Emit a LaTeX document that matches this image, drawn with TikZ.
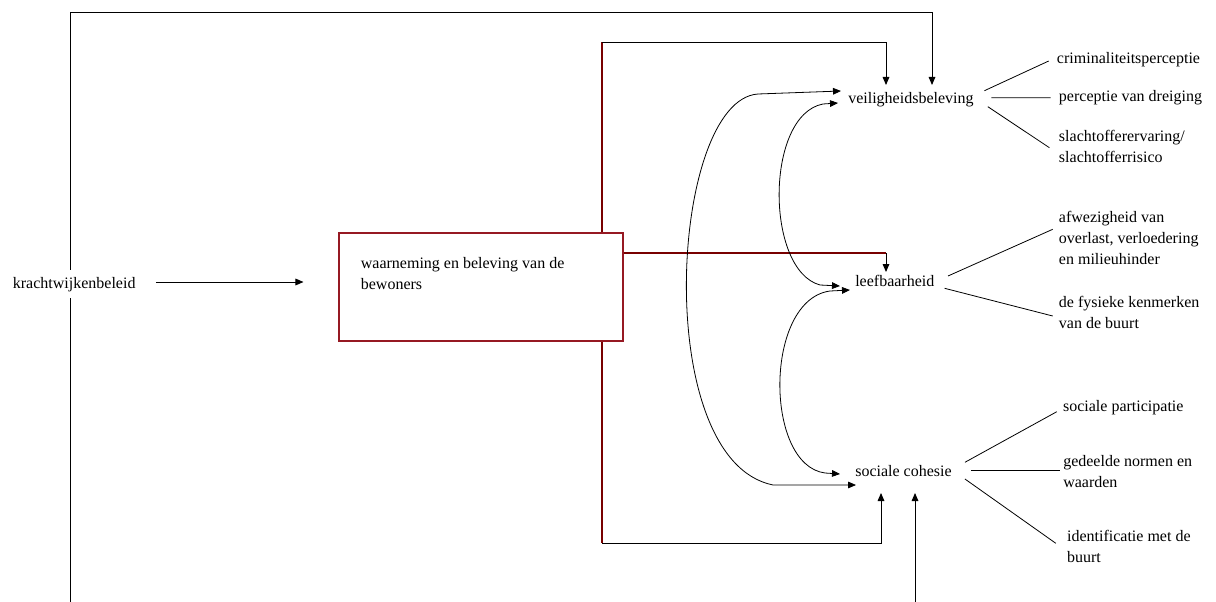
\documentclass[tikz,border=0pt]{standalone}
\usepackage{fontspec}
\setmainfont{Liberation Serif}
\usetikzlibrary{arrows.meta,calc}
\definecolor{boxred}{RGB}{150,25,35}
\definecolor{linered}{RGB}{120,0,0}
\newcommand{\mlines}[1]{\vtop{\halign{##\hfil\cr#1\crcr}}}
\tikzset{
  lbl/.style={font=\fontsize{12pt}{15.75pt}\selectfont, inner sep=0pt, anchor=base west},
  arr/.style={-{Triangle[length=6pt,width=5pt]}, line width=0.7pt},
  dbl/.style={{Triangle[length=6pt,width=5pt]}-{Triangle[length=6pt,width=5pt]}, line width=0.6pt},
  redln/.style={draw=linered, line width=1pt},
  link/.style={line width=0.6pt},
  boxstyle/.style={draw=boxred, line width=0.8pt, minimum width=213pt, minimum height=81pt, inner sep=0pt}
}
\begin{document}
\begin{tikzpicture}[x=0.75pt,y=-0.75pt]
\useasboundingbox (0,0) rectangle (1216,602);
% main nodes
\node[boxstyle] (box) at (481,287) {};
\node[lbl] (boxtxt) at (360.6,268) {\mlines{waarneming en beleving van de\cr bewoners}};
\node[lbl] (veil) at (848,104) {veiligheidsbeleving};
\node[lbl] (leef) at (855,286) {leefbaarheid};
\node[lbl] (soc) at (855,476.7) {sociale cohesie};
% right-hand labels
\node[lbl] (crim) at (1056.7,63.3) {criminaliteitsperceptie};
\node[lbl] (perc) at (1058.7,101.7) {perceptie van dreiging};
\node[lbl] (slach) at (1058.7,141.7) {\mlines{slachtofferervaring/\cr slachtofferrisico}};
\node[lbl] (afw) at (1058.7,222.7) {\mlines{afwezigheid van\cr overlast, verloedering\cr en milieuhinder}};
\node[lbl] (fys) at (1058.7,307.3) {\mlines{de fysieke kenmerken\cr van de buurt}};
\node[lbl] (part) at (1062.8,411) {sociale participatie};
\node[lbl] (ged) at (1063,466.7) {\mlines{gedeelde normen en\cr waarden}};
\node[lbl] (ident) at (1066.8,541) {\mlines{identificatie met de\cr buurt}};
% helper coordinates
\coordinate (lb) at (70,602);
\coordinate (lt) at (70,12);
\coordinate (tl) at (602,42);
\coordinate (bl) at (602,543);
\coordinate (lr) at (886,253);
\coordinate (bb) at (915,602);
% big outer line from krachtwijkenbeleid
\draw[arr] (lb) -- (lt) -| ($(veil.base west)+(84,-19)$);
\node[lbl, fill=white, inner ysep=5pt] (kb) at (12.6,288) {krachtwijkenbeleid};
\draw[arr] ($(kb.base east)+(20,-6)$) -- ($(box.west)+(-35,-5)$);
\draw[arr] (bb) -- ($(soc.base west)+(60,16.3)$);
% lines from the box
\draw[redln] (box.north -| tl) -- (tl);
\draw[arr] (tl) -| ($(veil.base west)+(38,-19)$);
\draw[redln] (box.east |- lr) -- (lr);
\draw[arr] (lr) -- ($(leef.base west)+(31,-14)$);
\draw[redln] (box.south -| bl) -- (bl);
\draw[arr] (bl) -| ($(soc.base west)+(26,16.3)$);
% double-headed curves
\draw[dbl] ($(veil.base west)+(-7,-13)$) -- (758,94) .. controls (670,100) and (650,460) .. (773,485) -- ($(soc.base west)+(1,8.3)$);
\draw[dbl] ($(veil.base west)+(-10,-1)$) -- (823,104) .. controls (765,115) and (765,270) .. (820,285) -- ($(leef.base west)+(-15,0)$);
\draw[dbl] ($(leef.base west)+(-5,4)$) -- (830,291) .. controls (764,300) and (764,465) .. (825,473) -- ($(soc.base west)+(-15,-2.7)$);
% dimension lines
\draw[link] ($(veil.base east)+(10.6,-13.3)$) -- ($(crim.base west)+(-8,-2.3)$);
\draw[link] ($(veil.base east)+(17.5,-6.3)$) -- ($(perc.base west)+(-8,-4)$);
\draw[link] ($(veil.base east)+(14,2.7)$) -- ($(slach.base west)+(-9.3,6)$);
\draw[link] ($(leef.base east)+(13.4,-10)$) -- ($(afw.base west)+(-6,6.6)$);
\draw[link] ($(leef.base east)+(10,2.3)$) -- ($(fys.base west)+(-6,8.7)$);
\draw[link] ($(soc.base east)+(13,-14.4)$) -- ($(part.base west)+(-6,0.7)$);
\draw[link] ($(soc.base east)+(19,-6)$) -- ($(ged.base west)+(-3.5,4)$);
\draw[link] ($(soc.base east)+(13,2.3)$) -- ($(ident.base west)+(-11,2.3)$);
\end{tikzpicture}
\end{document}
